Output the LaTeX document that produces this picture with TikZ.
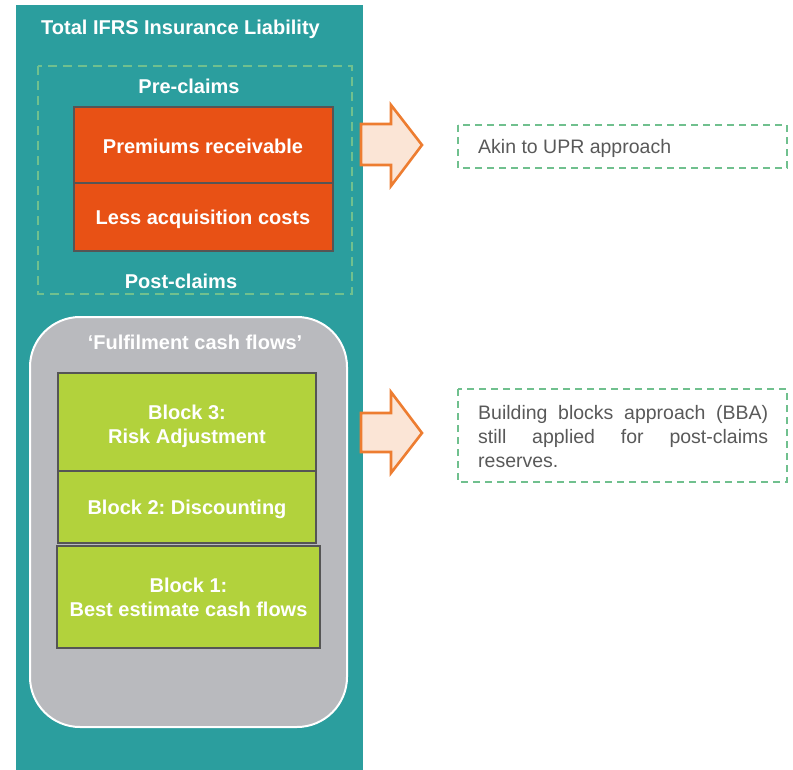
\documentclass[tikz,border=0pt]{standalone}
\usepackage{fontspec}
\setmainfont{Liberation Sans}
\usepackage{xcolor}
\definecolor{ifrsteal}{RGB}{43,158,158}
\definecolor{ifrsorange}{RGB}{232,81,21}
\definecolor{ifrsgreen}{RGB}{178,210,60}
\definecolor{ifrsgrey}{RGB}{185,186,190}
\definecolor{dashgreen}{RGB}{112,192,142}
\definecolor{arroworange}{RGB}{237,125,49}
\definecolor{arrowfill}{RGB}{251,229,214}
\definecolor{edgegrey}{RGB}{85,85,85}
\definecolor{notegrey}{RGB}{89,89,89}
\usetikzlibrary{positioning}
\hyphenpenalty=10000
\tolerance=9999
\frenchspacing

\begin{document}
\begin{tikzpicture}[x=1pt,y=-1pt,
    whitelbl/.style={font=\fontsize{20}{24}\selectfont\bfseries, text=white, inner sep=0pt, align=center},
    notelbl/.style={font=\fontsize{19.5}{24}\selectfont, text=notegrey, inner sep=0pt},
    bigarrow/.style={draw=arroworange, fill=arrowfill, line width=2.6pt},
    notebox/.style={draw=dashgreen, line width=2.2pt, dash pattern=on 7pt off 5pt}]
  \useasboundingbox (0,0) rectangle (793,770);
  % Teal liability panel
  \fill[ifrsteal] (16,5) rectangle (363,770);
  \node[whitelbl, anchor=base west] (title) at (41,35) {Total IFRS Insurance Liability};
  % Pre-claims dashed frame
  \draw[dashgreen, line width=2.8pt, dash pattern=on 9pt off 6pt] (38,66) rectangle (352,294);
  \node[whitelbl, anchor=base] (pre) at (189,94) {Pre-claims};
  \node[whitelbl, anchor=base] (post) at (181,289) {Post-claims};
  % Orange premium boxes
  \draw[fill=ifrsorange, draw=edgegrey, line width=1.5pt] (74,107) rectangle (333,183);
  \draw[fill=ifrsorange, draw=edgegrey, line width=1.5pt] (74,183) rectangle (333,251);
  \node[whitelbl, anchor=base] (prem) at (203,154) {Premiums receivable};
  \node[whitelbl, anchor=base] (acq) at (203,225) {Less acquisition costs};
  % Grey fulfilment cash flows container
  \draw[fill=ifrsgrey, draw=white, line width=2pt, rounded corners=50pt] (30,317) rectangle (347,727);
  \node[whitelbl, anchor=base] (fcf) at (195,349) {‘Fulfilment cash flows’};
  % Building blocks
  \draw[fill=ifrsgreen, draw=edgegrey, line width=1.5pt] (58,373) rectangle (316,471);
  \draw[fill=ifrsgreen, draw=edgegrey, line width=1.5pt] (58,471) rectangle (316,543);
  \draw[fill=ifrsgreen, draw=edgegrey, line width=1.5pt] (57,546) rectangle (320,648);
  \node[whitelbl, anchor=base] (blk3) at (187,443.5) {Block 3:\\Risk Adjustment};
  \node[whitelbl, anchor=base] (blk2) at (187,514) {Block 2: Discounting};
  \node[whitelbl, anchor=base] (blk1) at (188.5,616) {Block 1:\\Best estimate cash flows};
  % Block arrows
  \draw[bigarrow] (361,124) -- (391,124) -- (391,105) -- (422,145) -- (391,186) -- (391,165) -- (361,165) -- cycle;
  \draw[bigarrow] (361,413) -- (391,413) -- (391,392) -- (422,433) -- (391,473) -- (391,452) -- (361,452) -- cycle;
  % Notes
  \draw[notebox] (458,125) rectangle (787,168);
  \node[notelbl, anchor=base west] (upr) at (478,154) {Akin to UPR approach};
  \draw[notebox] (458,389) rectangle (787,482);
  \node[notelbl, anchor=base west, text width=290pt, align=justify] (bba) at (478,419)
    {Building blocks approach (BBA) still applied for post-claims reserves.};
\end{tikzpicture}
\end{document}
